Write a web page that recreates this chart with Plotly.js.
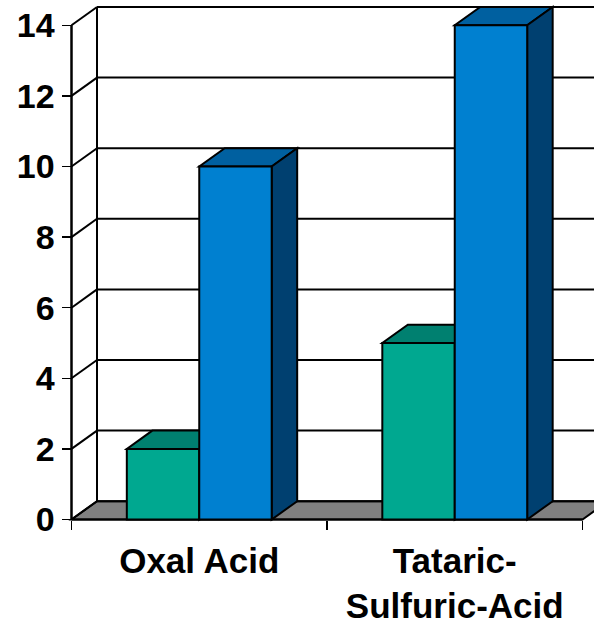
<!DOCTYPE html>
<html>
<head>
<meta charset="utf-8">
<script src="https://cdn.plot.ly/plotly-3.0.1.min.js"></script>
<style>html,body{margin:0;padding:0;background:#fff}#chart{width:594px;height:624px}</style>
</head>
<body>
<div id="chart"></div>
<script>
// Data
const categories = ['Oxal Acid', 'Tataric-<br>Sulfuric-Acid'];
const categoryCentres = [0.5, 1.5];
const greenValues = [2, 5];
const blueValues = [10, 14];
const yTicks = [0, 2, 4, 6, 8, 10, 12, 14];
const categoryEdges = [0, 1, 2];

// Styles
const GREEN = '#00A890', GREEN_TOP = '#008070', GREEN_SIDE = '#005848';
const BLUE = '#0080D0', BLUE_TOP = '#0060A0', BLUE_SIDE = '#004070';
const FLOOR = '#808080';
const INK = '#000000';
const FONT = {family: '"Liberation Sans", Arial, sans-serif', size: 34, color: INK, weight: 700};
const XFONT = {family: '"Liberation Sans", Arial, sans-serif', size: 35, color: INK, weight: 700};

// Scale: page pixels per data unit
const W = 594, H = 624;
const pxX = 255.5, pxY = 35.3, originX = 71.5, originY = 519.5;
const depthX = 25.5 / pxX, depthY = 18.3 / pxY;
const barW = 0.2835;

const xRange = [-originX / pxX, (W - originX) / pxX];
const yRange = [-(H - originY) / pxY, originY / pxY];

function poly(pts, fill, width) {
  return {
    type: 'path', xref: 'x', yref: 'y', layer: 'below',
    path: 'M' + pts.map(p => p[0] + ',' + p[1]).join('L') + 'Z',
    fillcolor: fill, line: {color: INK, width: width === undefined ? 2 : width}
  };
}
function seg(x0, y0, x1, y1, width) {
  return {type: 'line', xref: 'x', yref: 'y', layer: 'below', x0, y0, x1, y1, line: {color: INK, width}};
}

const shapes = [];
// floor
shapes.push(poly([[0, 0], [2, 0], [2 + depthX, depthY], [depthX, depthY]], FLOOR, 2));
// back wall gridlines + side wall diagonals
yTicks.forEach(v => {
  shapes.push(seg(depthX, v + depthY, xRange[1], v + depthY, 2));
  shapes.push(seg(0, v, depthX, v + depthY, 2));
});
shapes.push(seg(depthX, depthY, depthX, 14 + depthY, 2));
// bar depth faces
function depthFaces(x0, x1, v, top, side) {
  shapes.push(poly([[x0, v], [x1, v], [x1 + depthX, v + depthY], [x0 + depthX, v + depthY]], top));
  shapes.push(poly([[x1, 0], [x1, v], [x1 + depthX, v + depthY], [x1 + depthX, depthY]], side));
}
categoryCentres.forEach((c, i) => {
  depthFaces(c - barW, c, greenValues[i], GREEN_TOP, GREEN_SIDE);
  depthFaces(c, c + barW, blueValues[i], BLUE_TOP, BLUE_SIDE);
});
// axis lines (value axis stops at the top tick, category axis stops at the last edge)
shapes.push(seg(0, 0, 0, 14, 2.5));
shapes.push(seg(0, 0, 2, 0, 2));

const traces = [
  {type: 'bar', name: 'Series 1', x: categoryCentres, y: greenValues,
   marker: {color: GREEN, line: {color: INK, width: 2}}, hoverinfo: 'skip'},
  {type: 'bar', name: 'Series 2', x: categoryCentres, y: blueValues,
   marker: {color: BLUE, line: {color: INK, width: 2}}, hoverinfo: 'skip'}
];

const layout = {
  width: W, height: H,
  margin: {l: 0, r: 0, t: 0, b: 0, pad: 0},
  paper_bgcolor: '#ffffff', plot_bgcolor: '#ffffff',
  showlegend: false,
  barmode: 'group', bargap: 1 - 2 * barW, bargroupgap: 0,
  font: FONT,
  shapes: shapes,
  xaxis: {
    range: xRange, anchor: 'free', position: (H - originY) / H,
    tickmode: 'array', tickvals: categoryCentres, ticktext: categories,
    ticks: '', showgrid: false, zeroline: false, showline: false,
    tickangle: 0, tickfont: XFONT, automargin: false, ticklabelstandoff: 17,
    minor: {tickmode: 'array', tickvals: categoryEdges, ticks: 'outside', ticklen: 9, tickwidth: 1.5, tickcolor: INK, showgrid: false}
  },
  yaxis: {
    range: yRange, anchor: 'free', position: originX / W,
    tickmode: 'array', tickvals: yTicks, ticktext: yTicks.map(String),
    ticks: 'outside', ticklen: 10, tickwidth: 1.5, tickcolor: INK,
    showgrid: false, zeroline: false, showline: false,
    tickfont: FONT, automargin: false, ticklabelshift: -1.5
  }
};

Plotly.newPlot('chart', traces, layout, {staticPlot: true, displayModeBar: false});
</script>
</body>
</html>
